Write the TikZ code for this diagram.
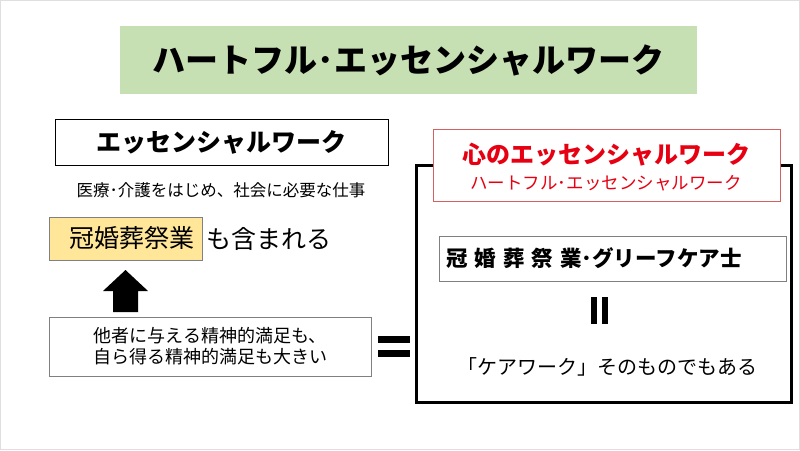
\documentclass[tikz,border=0pt]{standalone}
\usepackage{fontspec}
\setmainfont{Noto Sans CJK JP}
\usepackage{xcolor}
\usepackage{tikz}
\usetikzlibrary{positioning}

\definecolor{headgreen}{RGB}{198,224,180}
\definecolor{tagyellow}{RGB}{255,230,153}
\definecolor{heartred}{RGB}{230,0,18}
\definecolor{edgered}{RGB}{214,96,96}
\newcommand{\pxfont}[1]{\fontsize{#1}{#1}\selectfont}
\newcommand{\kgap}{\hspace{7pt}}

\begin{document}
\begin{tikzpicture}[x=1pt, y=-1pt,
  plainbox/.style={draw, thick, fill=white, inner sep=0pt},
  greybox/.style={draw=gray, fill=white, inner sep=0pt},
  txt/.style={inner sep=0pt},
  bar/.style={fill=black},
]

\useasboundingbox (0,0) rectangle (800,450);
\draw[gray!25] (0.5,0.5) rectangle (799.5,449.5);

% --- title ---
\node[fill=headgreen, minimum width=577, minimum height=68, font=\pxfont{33}\bfseries] (title) at (408.5,60) {ハートフル･エッセンシャルワーク};

% --- left column ---
\node[plainbox, minimum width=333, minimum height=46, font=\pxfont{25}\bfseries] (ew) at (221.5,142) {エッセンシャルワーク};
\node[txt, font=\pxfont{16.5}] (ewsub) at (221,190) {医療･介護をはじめ、社会に必要な仕事};
\node[draw=gray, fill=tagyellow, minimum width=153, minimum height=43, inner sep=0pt, font=\pxfont{25}] (kan) at (125.5,238.5) {\hspace*{12pt}冠婚葬祭業};
\node[txt, anchor=west, font=\pxfont{25}] (incl) at (206,238.5) {も含まれる};
\node[greybox, minimum width=322, minimum height=59, align=center, font=\pxfont{18}] (satis) at (210,346.5) {他者に与える精神的満足も、\\[3pt]自ら得る精神的満足も大きい};

% up arrow
\fill (103,291) -- (125.5,270) -- (148,291) -- (138,291) -- (138,312) -- (113,312) -- (113,291) -- cycle;

% equals
\fill[bar] (378,336) rectangle (410,343);
\fill[bar] (378,350) rectangle (410,357);

% --- right column ---
\draw[line width=3pt] (416,165) rectangle (791,402);
\node[draw=edgered, fill=white, minimum width=347, minimum height=72, inner sep=0pt] (heart) at (606.5,165) {};
\node[txt, font=\pxfont{24}\bfseries, text=heartred] (heart1) at (606,155) {心のエッセンシャルワーク};
\node[txt, font=\pxfont{17.5}, text=heartred] (heart2) at (606,183) {ハートフル･エッセンシャルワーク};

\node[greybox, minimum width=347, minimum height=45] (grief) at (612.5,258.5) {};
\node[txt, anchor=west, font=\pxfont{21.5}\bfseries] (grieftxt) at (446,258.5) {冠\kgap 婚\kgap 葬\kgap 祭\kgap 業･グリーフケア士};

% vertical equals
\fill[bar] (591,297) rectangle (597,324);
\fill[bar] (602,297) rectangle (608,324);

\node[txt, font=\pxfont{20}] (care) at (607,367) {「ケアワーク」そのものでもある};

\end{tikzpicture}
\end{document}
